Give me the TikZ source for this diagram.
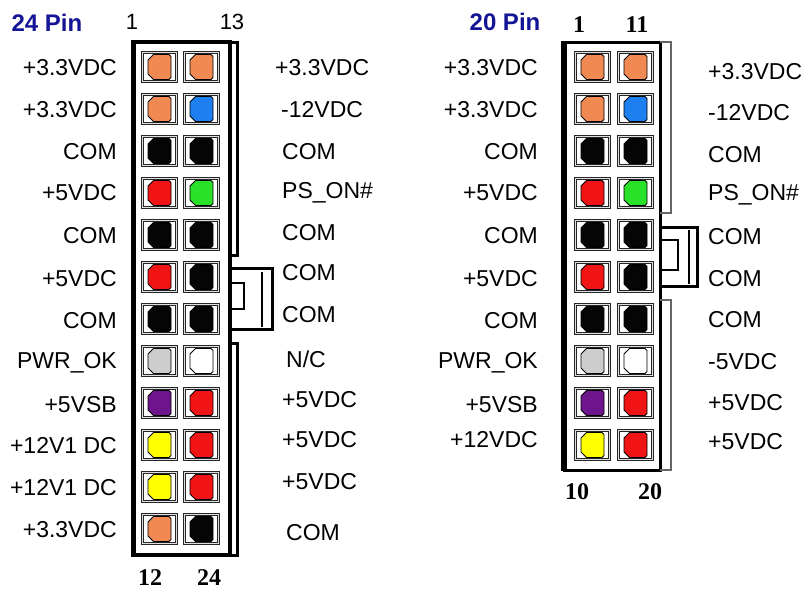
\documentclass[tikz,border=0pt]{standalone}
\usepackage{fontspec}
\usetikzlibrary{shapes.misc}
\setmainfont{Liberation Serif}
\setsansfont{Liberation Sans}
\definecolor{pinorange}{RGB}{240,138,82}
\definecolor{pinblue}{RGB}{30,128,240}
\definecolor{pinred}{RGB}{240,20,20}
\definecolor{pingreen}{RGB}{40,225,40}
\definecolor{pinpurple}{RGB}{110,20,140}
\definecolor{pinyellow}{RGB}{255,255,0}
\definecolor{pingray}{RGB}{205,205,205}
\definecolor{pinblack}{RGB}{5,5,5}
\definecolor{pinwhite}{RGB}{255,255,255}
\definecolor{titleblue}{RGB}{20,20,150}
\tikzset{
  pinsq/.style={draw=black!85, double=gray!25, double distance=1.4pt,
    line width=0.6pt, minimum width=34pt, minimum height=29pt, inner sep=0pt},
  pinsq1/.style={pinsq, rectangle},
  pinsq-1/.style={pinsq, chamfered rectangle,
    chamfered rectangle corners={north west,south west},
    chamfered rectangle sep=5pt},
  lbl/.style={font=\sffamily\fontsize{23}{23}\selectfont, inner sep=0pt},
  pintitle/.style={font=\sffamily\bfseries\fontsize{24}{24}\selectfont,
    text=titleblue, inner sep=0pt},
  pinnum/.style={font=\bfseries\fontsize{24}{24}\selectfont, inner sep=0pt},
  topnum/.style={font=\sffamily\fontsize{22}{22}\selectfont, inner sep=0pt},
}
% colored contact inside a pin
\newcommand\pinfill[3]{%
  \filldraw[fill=#3, draw=black, line width=0.8pt, shift={(#1,#2)}]
    (-6,-12.5) -- (9.5,-12.5) -- (11.5,-10.5) -- (11.5,10.5) -- (9.5,12.5)
    -- (-6,12.5) -- (-11.5,7) -- (-11.5,-7) -- cycle;}
\begin{document}
\begin{tikzpicture}[x=1pt,y=-1pt]
\useasboundingbox (0,0) rectangle (808,590);

% 24 pin connector
\node[pintitle] (t24) at (47,23) {24 Pin};
\node[topnum] (n1) at (132,22) {1};
\node[topnum] (n13) at (232,22) {13};
\draw[line width=3.5pt] (133,42) rectangle (230,555);
\draw[line width=5pt] (133,41) -- (133,556);
\draw[line width=3pt] (230,42) -| (237,255) -- (230,255);
\draw[line width=3pt] (230,343) -| (237,555) -- (230,555);
\draw[line width=3pt] (230,268) rectangle (272,329);
\draw[line width=1.5pt] (262,272) -- (262,327);
\draw[line width=2.5pt] (230,283) rectangle (244,309);
\foreach \ca/\sa/\cb/\sb [count=\r] in {
  pinorange/1/pinorange/-1, pinorange/-1/pinblue/1, pinblack/-1/pinblack/1,
  pinred/1/pingreen/-1, pinblack/1/pinblack/-1, pinred/1/pinblack/-1,
  pinblack/-1/pinblack/1, pingray/1/pinwhite/-1, pinpurple/1/pinred/-1,
  pinyellow/-1/pinred/1, pinyellow/1/pinred/-1, pinorange/-1/pinblack/1} {
  \pgfmathsetmacro\yy{67+42*(\r-1)}
  \node[pinsq\sa] (a\r) at (159.5,\yy) {};
  \node[pinsq\sb] (b\r) at (201.5,\yy) {};
  \pinfill{159.5}{\yy}{\ca}
  \pinfill{201.5}{\yy}{\cb}
}
\foreach \t/\y [count=\r] in {{+3.3VDC}/68, {+3.3VDC}/110, COM/152,
  {+5VDC}/193, COM/236, {+5VDC}/279, COM/321, {PWR\_OK}/363, {+5VSB}/405,
  {+12V1 DC}/446, {+12V1 DC}/488, {+3.3VDC}/530}
  \node[lbl, anchor=east] (la\r) at (117,\y) {\t};
\foreach \t/\x/\y [count=\r] in {{+3.3VDC}/275/68, {-12VDC}/281/110,
  COM/282/152, {PS\_ON\#}/282/193, COM/282/233, COM/282/273, COM/282/315,
  {N/C}/286/359, {+5VDC}/282/400, {+5VDC}/282/440, {+5VDC}/282/482,
  COM/286/533}
  \node[lbl, anchor=west] (lb\r) at (\x,\y) {\t};
\node[pinnum] (n12) at (150,578) {12};
\node[pinnum] (n24) at (209,578) {24};

% 20 pin connector
\node[pintitle] (t20) at (505,22) {20 Pin};
\node[pinnum] (m1) at (579,25) {1};
\node[pinnum] (m11) at (637,25) {11};
\draw[line width=3pt] (564,42) rectangle (660,470);
\draw[line width=6pt] (564,41) -- (564,471);
\draw[black!60, line width=1.5pt] (660,42) -| (671,213) -- (660,213);
\draw[black!60, line width=1.5pt] (660,300) -| (671,470) -- (660,470);
\draw[line width=3pt] (660,227) rectangle (697,286);
\draw[line width=1.5pt] (689,230) -- (689,284);
\draw[line width=2.5pt] (660,240) rectangle (678,270);
\foreach \ca/\sa/\cb/\sb [count=\r] in {
  pinorange/1/pinorange/-1, pinorange/-1/pinblue/1, pinblack/-1/pinblack/1,
  pinred/1/pingreen/-1, pinblack/1/pinblack/-1, pinred/-1/pinblack/1,
  pinblack/-1/pinblack/1, pingray/1/pinwhite/-1, pinpurple/1/pinred/-1,
  pinyellow/-1/pinred/1} {
  \pgfmathsetmacro\yy{67+42*(\r-1)}
  \node[pinsq\sa] (c\r) at (592.5,\yy) {};
  \node[pinsq\sb] (d\r) at (635.5,\yy) {};
  \pinfill{592.5}{\yy}{\ca}
  \pinfill{635.5}{\yy}{\cb}
}
\foreach \t/\y [count=\r] in {{+3.3VDC}/68, {+3.3VDC}/110, COM/152,
  {+5VDC}/193, COM/236, {+5VDC}/279, COM/321, {PWR\_OK}/363, {+5VSB}/405,
  {+12VDC}/440}
  \node[lbl, anchor=east] (lc\r) at (538,\y) {\t};
\foreach \t/\y [count=\r] in {{+3.3VDC}/72, {-12VDC}/113, COM/155,
  {PS\_ON\#}/195, COM/237, COM/279, COM/320, {-5VDC}/362, {+5VDC}/403,
  {+5VDC}/442}
  \node[lbl, anchor=west] (ld\r) at (708,\y) {\t};
\node[pinnum] (m10) at (577,492) {10};
\node[pinnum] (m20) at (650,492) {20};
\end{tikzpicture}
\end{document}
